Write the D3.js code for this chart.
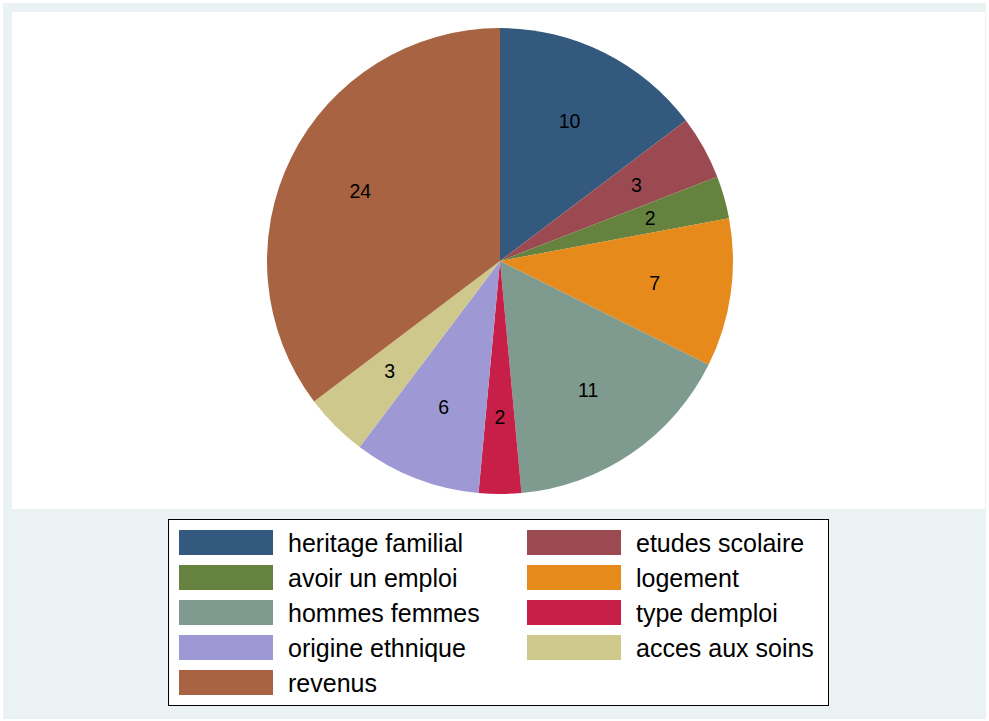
<!DOCTYPE html>
<html><head><meta charset="utf-8">
<script src="https://cdn.jsdelivr.net/npm/d3@7"></script>
<style>body{margin:0;background:#fff}svg{display:block}text{font-family:"Liberation Sans",Arial,sans-serif}</style>
</head><body>
<svg id="c" width="989" height="721"></svg>
<script>
const categories = ["heritage familial","etudes scolaire","avoir un emploi","logement","hommes femmes","type demploi","origine ethnique","acces aux soins","revenus"];
const values = [10,3,2,7,11,2,6,3,24];
const colors = ["#335A7E","#9C4A51","#66823F","#E68A1C","#7F9A8E","#C81F48","#9E98D4","#CEC88C","#A86343"];

const svg = d3.select("#c");
svg.append("rect").attr("x",3).attr("y",3).attr("width",983).attr("height",716).attr("fill","#EAF2F3");
svg.append("rect").attr("x",12).attr("y",12).attr("width",973).attr("height",497).attr("fill","#fff");

const cx = 500, cy = 261, r = 233;
const data = categories.map((c,i)=>({cat:c,val:values[i],col:colors[i]}));
const pie = d3.pie().value(d=>d.val).sort(null);
const arc = d3.arc().innerRadius(0).outerRadius(r);
const labelArc = d3.arc().innerRadius(r*0.67).outerRadius(r*0.67);
const g = svg.append("g").attr("transform",`translate(${cx},${cy})`);
const arcs = pie(data);
g.selectAll("path").data(arcs).join("path").attr("d",arc).attr("fill",d=>d.data.col);
g.selectAll("text").data(arcs).join("text")
  .attr("x",d=>labelArc.centroid(d)[0]).attr("y",d=>labelArc.centroid(d)[1])
  .attr("text-anchor","middle").attr("dominant-baseline","central")
  .attr("font-size",19.5).attr("fill","#000").text(d=>d.data.val);

// legend
svg.append("rect").attr("x",168.5).attr("y",519.5).attr("width",660).attr("height",186).attr("fill","#fff").attr("stroke","#000").attr("stroke-width",1);
const lg = svg.append("g");
data.forEach((d,i)=>{
  const col = i%2, row = Math.floor(i/2);
  const x = col===0 ? 179 : 527;
  const y = 530 + row*35;
  lg.append("rect").attr("x",x).attr("y",y).attr("width",94).attr("height",25).attr("fill",d.col);
  lg.append("text").attr("x",x+109).attr("y",y+13).attr("dominant-baseline","central")
    .attr("font-size",25).attr("fill","#000").text(d.cat);
});
</script>
</body></html>
